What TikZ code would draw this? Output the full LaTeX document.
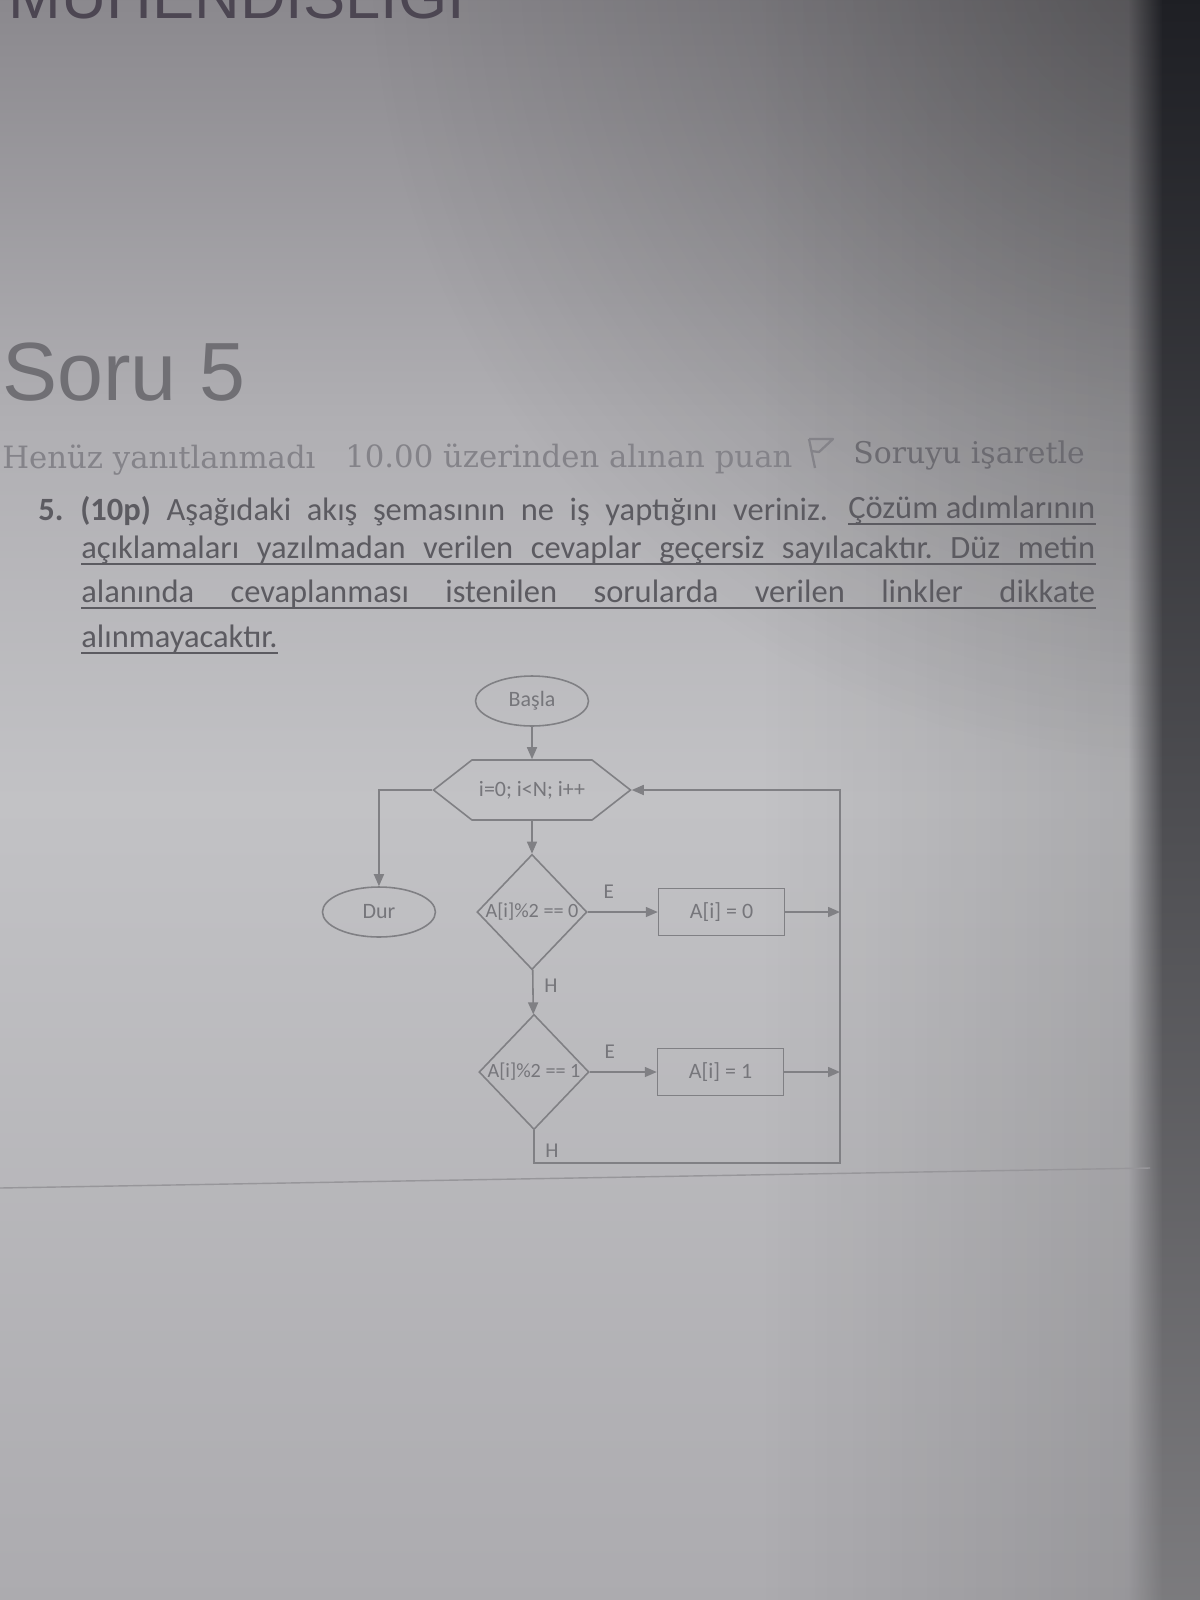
\documentclass[tikz,border=0pt]{standalone}
\usepackage{fontspec}
\setmainfont{Carlito}
\newfontfamily\headsans{Liberation Sans}
\newfontfamily\metaserif{DejaVu Serif}
\usetikzlibrary{arrows.meta,positioning,shapes.geometric,shapes.symbols,calc,fadings}
\frenchspacing
\definecolor{screentop}{RGB}{138,136,141}
\definecolor{screenmid}{RGB}{176,175,179}
\definecolor{screenlight}{RGB}{194,194,197}
\definecolor{screenbot}{RGB}{172,171,175}
\definecolor{bezel}{RGB}{30,31,36}
\definecolor{inkhead}{RGB}{76,70,82}
\definecolor{inksoru}{RGB}{112,111,116}
\definecolor{inkmeta}{RGB}{132,131,137}
\definecolor{inkflag}{RGB}{108,107,113}
\definecolor{inkq}{RGB}{92,91,97}
\definecolor{chartline}{RGB}{128,128,132}
\definecolor{charttext}{RGB}{118,118,123}
\tikzfading[name=darken right, left color=transparent!100, right color=transparent!0]
\tikzfading[name=corner shade, inner color=transparent!0, outer color=transparent!100]

\begin{document}
\begin{tikzpicture}[
    x=0.02cm, y=0.02cm,
    qline/.style={anchor=base west, inner sep=0, text=inkq, font=\fontsize{18.5}{22}\selectfont},
    uline/.style={draw=inkq, line width=0.8pt},
    term/.style={ellipse, draw=chartline, line width=0.9pt, text=charttext, font=\fontsize{12.5}{15}\selectfont, minimum width=2.26cm, minimum height=1.0cm, inner sep=0},
    loopbox/.style={signal, signal to=west and east, signal pointer angle=76, draw=chartline, line width=0.9pt, text=charttext, font=\fontsize{12.5}{15}\selectfont, minimum width=3.94cm, minimum height=1.2cm, inner sep=0},
    decision/.style={diamond, aspect=0.95, draw=chartline, line width=0.9pt, text=charttext, font=\fontsize{11.5}{13}\selectfont, minimum width=2.2cm, minimum height=2.28cm, inner sep=0},
    process/.style={rectangle, draw=chartline, line width=0.9pt, text=charttext, font=\fontsize{12.5}{15}\selectfont, minimum width=2.52cm, minimum height=0.94cm},
    flow/.style={-{Triangle[length=0.24cm,width=0.2cm]}, draw=chartline, line width=0.9pt},
    branch/.style={text=charttext, font=\fontsize{12}{14}\selectfont, inner sep=2pt}
  ]
    \useasboundingbox (0,0) rectangle (1200,-1600);
    \clip (0,0) rectangle (1200,-1600);

    % screen background
    \fill[screentop] (-5,5) rectangle (1205,-1605);
    \shade[top color=screentop, bottom color=screenmid] (-5,5) rectangle (1205,-421);
    \shade[top color=screenmid, bottom color=screenlight] (-5,-420) rectangle (1205,-801);
    \shade[top color=screenlight, bottom color=screenbot] (-5,-800) rectangle (1205,-1605);
    \fill[black, opacity=0.14, path fading=darken right] (760,5) rectangle (1205,-1605);
    \fill[black, opacity=0.3, path fading=corner shade] (1170,40) circle[radius=800];
    \shade[top color=bezel, middle color=bezel, bottom color=screenbot!72!black, path fading=darken right] (1128,5) rectangle (1163,-1605);
    \shade[top color=bezel, middle color=bezel, bottom color=screenbot!72!black] (1162,5) rectangle (1205,-1605);
    \draw[screenbot!88!black, line width=0.8pt] (0,-1188) -- (1150,-1168);

    % page header
    \node[anchor=base west, inner sep=0, text=inkhead, font=\headsans\fontsize{36}{40}\selectfont] (dept) at (8,-18) {MUHENDISLIGI};
    \node[anchor=base west, inner sep=0, text=inksoru, font=\headsans\fontsize{47}{50}\selectfont] (soru) at (2,-400) {Soru 5};
    \node[anchor=base west, inner sep=0, text=inkmeta, font=\metaserif\fontsize{17.5}{20}\selectfont] (state) at (2,-468) {Henüz yanıtlanmadı};
    \node[anchor=base west, inner sep=0, text=inkmeta, font=\metaserif\fontsize{17.5}{20}\selectfont] (grade) at (345,-467) {10.00 üzerinden alınan puan};
    \node[anchor=base west, inner sep=0, text=inkflag, font=\metaserif\fontsize{17}{20}\selectfont] (flagtext) at (853,-463) {Soruyu işaretle};
    \draw[inkmeta, line width=1.3pt, line join=round] (809,-439) -- (833,-439) -- (819,-452) -- (811,-451);
    \draw[inkmeta, line width=1.3pt] (809,-439) -- (815,-468);

    % question text
    \node[qline] (qnum) at (38,-520) {\textbf{5.}};
    \node[qline] (q1a) at (80,-520) {\makebox[14.96cm][s]{\textbf{(10p)} Aşağıdaki akış şemasının ne iş yaptığını veriniz.}};
    \node[qline] (q1b) at (848,-518) {\makebox[4.94cm][s]{Çözüm adımlarının}};
    \node[qline] (q2) at (81,-558) {\makebox[20.28cm][s]{açıklamaları yazılmadan verilen cevaplar geçersiz sayılacaktır. Düz metin}};
    \node[qline] (q3) at (81,-602) {\makebox[20.28cm][s]{alanında cevaplanması istenilen sorularda verilen linkler dikkate}};
    \node[qline] (q4) at (81,-647) {alınmayacaktır.};
    \foreach \ln in {q1b,q2,q3,q4}
      \draw[uline] ($(\ln.base west)+(0,-6)$) -- ($(\ln.base east)+(0,-6)$);

    % flow chart
    \node[term] (basla) at (532,-701) {Başla};
    \node[loopbox] (loop) at (532,-790) {i=0; i<N; i++};
    \node[decision] (even) at (532,-912) {A[i]\%2 == 0};
    \node[decision] (odd) at (534,-1072) {A[i]\%2 == 1};
    \node[term, left=0.8cm of even] (dur) {Dur};
    \node[process, right=1.4cm of even] (zero) {A[i] = 0};
    \node[process, right=1.34cm of odd] (one) {A[i] = 1};
    \coordinate (looptr) at (840,-790);
    \coordinate (loopbr) at (840,-1163);
    \coordinate (loopbl) at (odd.south |- loopbr);
    \coordinate (ret0) at (looptr |- zero);
    \coordinate (ret1) at (looptr |- one);

    \draw[flow] (basla) -- (loop);
    \draw[flow] (loop) -- (even);
    \draw[flow] (loop.west) -| (dur);
    \draw[flow] (even) -- node[branch, above=5pt, pos=0.3] {E} (zero);
    \draw[flow] (even) -- node[branch, right=4pt, pos=0.35] {H} (odd);
    \draw[flow] (odd) -- node[branch, above=5pt, pos=0.3] {E} (one);
    \draw[flow] (zero) -- (ret0);
    \draw[flow] (one) -- (ret1);
    \draw[flow] (odd.south) -- node[branch, right=4pt, pos=0.62] {H} (loopbl) -- (loopbr) -- (looptr) -- (loop.east);
  \end{tikzpicture}
\end{document}
